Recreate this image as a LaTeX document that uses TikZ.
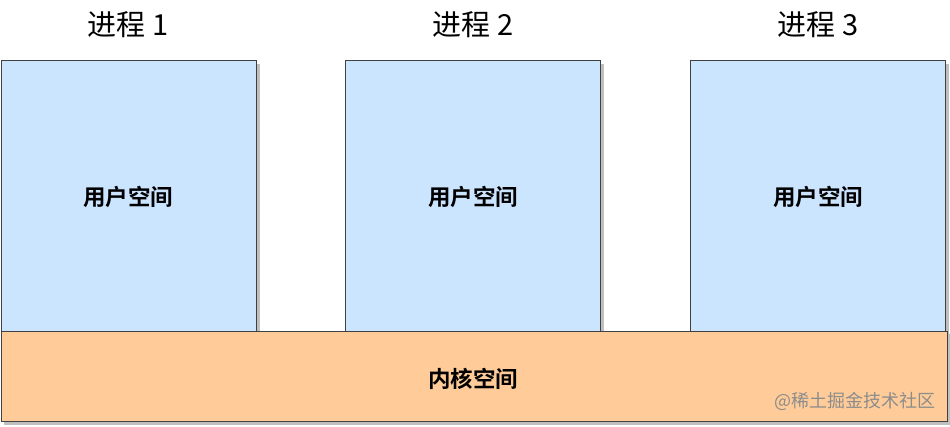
\documentclass[tikz,border=0pt]{standalone}
\usepackage{fontspec}
\setmainfont{Noto Sans CJK SC}
\newfontfamily\cjkbold{Noto Sans CJK SC Bold}
\begin{document}
\begin{tikzpicture}[x=1pt,y=-1pt,
  userbox/.style={draw=black!75,line width=1pt,fill={rgb,255:red,204;green,229;blue,255}},
  kernbox/.style={draw=black!75,line width=1pt,fill={rgb,255:red,255;green,204;blue,153}},
  title/.style={font=\fontsize{29}{32}\selectfont},
  inner/.style={font=\cjkbold\fontsize{22.5}{26}\selectfont}]
\useasboundingbox (0,0) rectangle (950,426);
% shadows
\fill[black!25] (4,64) rectangle (260,334);
\fill[black!25] (349,64) rectangle (604,334);
\fill[black!25] (694,64) rectangle (949,334);
\fill[black!25] (4,334) rectangle (950,425);
% user boxes
\draw[userbox] (1,60) rectangle (256,331);
\draw[userbox] (345,60) rectangle (600,331);
\draw[userbox] (690,60) rectangle (945,331);
% kernel
\draw[kernbox] (1,331) rectangle (947,421);
% texts
\node[title] (t1) at (128,25) {进程 1};
\node[title] (t2) at (473,25) {进程 2};
\node[title] (t3) at (818,25) {进程 3};
\node[inner] (u1) at (128,197) {用户空间};
\node[inner] (u2) at (473,197) {用户空间};
\node[inner] (u3) at (818,197) {用户空间};
\node[inner] (k) at (473,379) {内核空间};
\node[font=\fontsize{18}{20}\selectfont,text=black!45] (wm) at (855,401) {@稀土掘金技术社区};
\end{tikzpicture}
\end{document}
